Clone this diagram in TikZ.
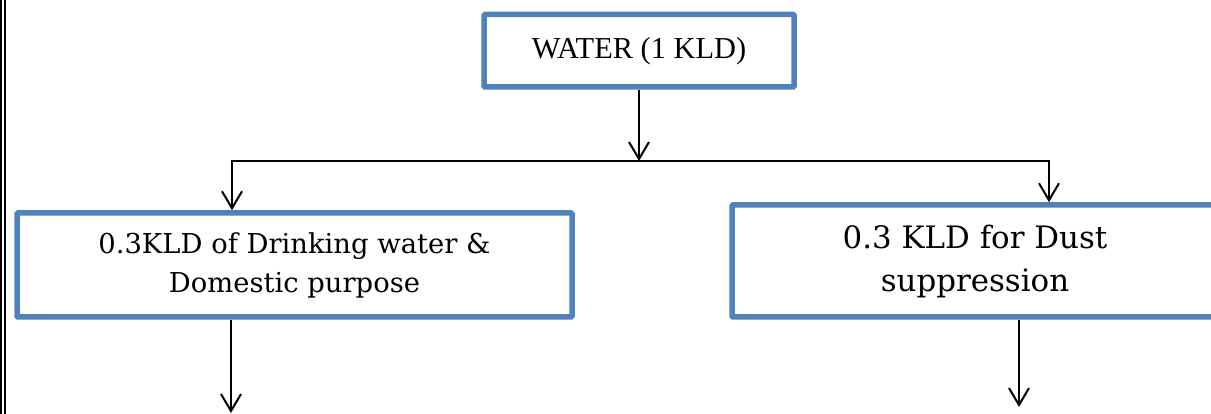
\documentclass[tikz,border=0pt]{standalone}
\usepackage{fontspec}
\setmainfont{DejaVu Serif}
\newfontfamily\watfont{Liberation Serif}
\usetikzlibrary{arrows.meta}
\definecolor{boxblue}{HTML}{4F81BD}
\begin{document}
\begin{tikzpicture}[x=1pt,y=-1pt,
  flowbox/.style={draw=boxblue,line width=5.5pt,rounded corners=1pt,align=center,inner sep=0pt},
  flowarr/.style={line width=2pt,-{Straight Barb[length=17pt,width=20pt]}}]
\useasboundingbox (0,0) rectangle (1211,414);
%page border
\draw[line width=2pt] (1.2,0) -- (1.2,414);
\draw[line width=2pt] (5.2,0) -- (5.2,414);
%boxes
\node[flowbox,minimum width=310pt,minimum height=72.5pt,
  font=\watfont\fontsize{30.4}{35}\selectfont] (water) at (639,50.75) {WATER (1 KLD)};
\node[flowbox,minimum width=555pt,minimum height=104pt,
  font=\fontsize{27.4}{39}\selectfont] (drink) at (294.5,265) {0.3KLD of Drinking water \&\\Domestic purpose};
\node[flowbox,minimum width=486pt,minimum height=112pt,
  font=\fontsize{30.9}{43}\selectfont] (dust) at (975,261) {0.3 KLD for Dust\\suppression};
%split points
\coordinate (split) at (639,161);
\coordinate (jl) at (232,161);
\coordinate (jr) at (1049,161);
\coordinate (outl) at (231,413);
\coordinate (outr) at (1019,407);
%arrows
\draw[flowarr] (water) -- (split);
\draw[flowarr] (split) -| (jl |- drink.north);
\draw[flowarr] (split) -| (jr |- dust.north);
\draw[flowarr] (drink.south -| outl) -- (outl);
\draw[flowarr] (dust.south -| outr) -- (outr);
\end{tikzpicture}
\end{document}
